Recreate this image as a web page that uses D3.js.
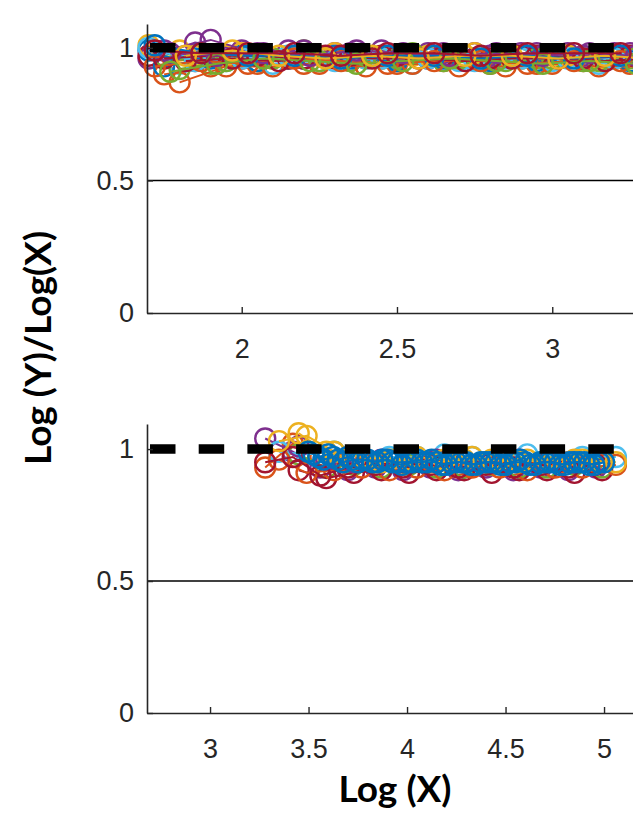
<!DOCTYPE html>
<html><head><meta charset="utf-8">
<script src="https://cdn.jsdelivr.net/npm/d3@7"></script>
<style>
body { margin: 0; background: #fff; }
svg { display: block; }
</style></head><body>
<svg id="chart" width="633" height="814"></svg>
<script>
// MATLAB default colour order
const palette = ['#0072BD', '#D95319', '#EDB120', '#7E2F8E', '#77AC30', '#4DBEEE', '#A2142F'];

/* top panel: Log(X) positions */
const topXa = [1.70, 1.85, 2.00, 2.15, 2.30, 2.45, 2.60, 2.75, 2.90, 3.05, 3.20];
const topXb = [1.75, 1.90, 2.05, 2.20, 2.35, 2.50, 2.65, 2.80, 2.95, 3.10, 3.25];
const topXc = [1.80, 1.95, 2.10, 2.25, 2.40, 2.55, 2.70, 2.85, 3.00, 3.15, 3.30];
const topXd = [1.72, 1.87, 2.02, 2.17, 2.32, 2.47, 2.62, 2.77, 2.92, 3.07, 3.22];
const topXe = [1.77, 1.92, 2.07, 2.22, 2.37, 2.52, 2.67, 2.82, 2.97, 3.12, 3.27];
const topXf = [1.82, 1.97, 2.12, 2.27, 2.42, 2.57, 2.72, 2.87, 3.02, 3.17, 3.32];

/* top panel: Log(Y)/Log(X) */
const top1 = [0.99, 0.96, 0.97, 0.96, 0.97, 0.96, 0.97, 0.96, 0.96, 0.97, 0.96];
const top2 = [0.90, 0.93, 0.94, 0.94, 0.95, 0.94, 0.95, 0.94, 0.94, 0.95, 0.94];
const top3 = [0.99, 0.97, 0.96, 0.97, 0.96, 0.97, 0.96, 0.97, 0.97, 0.96, 0.97];
const top4 = [0.96, 1.02, 0.99, 0.99, 0.98, 0.99, 0.98, 0.98, 0.98, 0.98, 0.98];
const top5 = [0.97, 0.94, 0.95, 0.99, 0.95, 0.96, 0.95, 0.94, 0.96, 0.95, 0.96];
const top6 = [0.94, 0.95, 0.94, 0.95, 0.96, 0.94, 0.95, 0.96, 0.95, 0.94, 0.95];
const top7 = [0.97, 0.95, 0.96, 0.96, 0.96, 0.97, 0.96, 0.96, 0.97, 0.97, 0.97];
const top8 = [0.93, 0.96, 0.95, 0.96, 0.96, 0.95, 0.96, 0.95, 0.95, 0.96, 0.95];
const top9 = [0.87, 0.93, 0.93, 0.94, 0.93, 0.94, 0.93, 0.93, 0.94, 0.93, 0.93];
const top10 = [1.01, 0.97, 0.98, 0.97, 0.98, 0.96, 0.97, 0.98, 0.96, 0.97, 0.96];
const top11 = [0.99, 1.03, 0.98, 0.99, 0.98, 0.97, 0.98, 0.97, 0.98, 0.97, 0.98];
const top12 = [0.92, 0.95, 0.96, 0.95, 0.97, 0.98, 0.96, 0.95, 0.96, 0.95, 0.95];
const top13 = [1.00, 0.95, 0.96, 0.97, 0.95, 0.96, 0.96, 0.95, 0.96, 0.96, 0.96];
const top14 = [0.96, 0.97, 0.97, 0.96, 0.97, 0.97, 0.97, 0.96, 0.97, 0.96, 0.97];
const top15 = [0.93, 0.95, 0.94, 0.96, 0.95, 0.94, 0.95, 0.95, 0.94, 0.95, 0.95];
const top16 = [0.98, 0.97, 0.98, 0.97, 0.99, 0.98, 0.97, 0.98, 0.97, 0.98, 0.97];
const top17 = [0.95, 0.96, 0.95, 0.97, 0.96, 0.96, 0.95, 0.96, 0.96, 0.95, 0.96];
const top18 = [1.01, 0.98, 0.97, 0.97, 0.96, 0.97, 0.97, 0.96, 0.97, 0.96, 0.97];
const top19 = [0.91, 0.94, 0.96, 0.95, 0.94, 0.95, 0.96, 0.95, 0.94, 0.95, 0.94];
const top20 = [0.97, 0.99, 0.97, 0.96, 0.97, 0.96, 0.97, 0.97, 0.96, 0.97, 0.96];
const top21 = [0.99, 0.98, 0.98, 0.98, 0.97, 0.98, 0.98, 0.97, 0.98, 0.98, 0.98];

/* bottom panel: Log(X) positions */
const botXa = [3.28, 3.42, 3.56, 3.70, 3.84, 3.98, 4.12, 4.26, 4.40, 4.54, 4.68, 4.82, 4.96];
const botXb = [3.35, 3.49, 3.63, 3.77, 3.91, 4.05, 4.19, 4.33, 4.47, 4.61, 4.75, 4.89, 5.06];
const botXc = [3.45, 3.59, 3.73, 3.87, 4.01, 4.15, 4.29, 4.43, 4.57, 4.71, 4.85, 4.99];
const botXdense = [3.50, 3.55, 3.60, 3.65, 3.70, 3.75, 3.80, 3.85, 3.90, 3.95, 4.00, 4.05, 4.10, 4.15, 4.20, 4.25,
  4.30, 4.35, 4.40, 4.45, 4.50, 4.55, 4.60, 4.65, 4.70, 4.75, 4.80, 4.85, 4.90, 4.95, 5.00];
const botXdense2 = [3.525, 3.575, 3.625, 3.675, 3.725, 3.775, 3.825, 3.875, 3.925, 3.975, 4.025, 4.075, 4.125, 4.175, 4.225,
  4.275, 4.325, 4.375, 4.425, 4.475, 4.525, 4.575, 4.625, 4.675, 4.725, 4.775, 4.825, 4.875, 4.925, 4.975];

/* bottom panel: Log(Y)/Log(X) */
const bot1 = [0.93, 1.02, 0.97, 0.95, 0.95, 0.94, 0.95, 0.94, 0.95, 0.94, 0.94, 0.95, 0.95];
const bot2 = [1.03, 1.05, 0.99, 0.97, 0.96, 0.97, 0.96, 0.97, 0.96, 0.96, 0.97, 0.96, 0.95];
const bot3 = [1.04, 0.99, 0.93, 0.92, 0.93, 0.92, 0.93, 0.92, 0.93, 0.92, 0.93, 0.92, 0.93];
const bot4 = [0.98, 0.93, 0.94, 0.93, 0.94, 0.93, 0.93, 0.94, 0.93, 0.93, 0.94, 0.93];
const bot5 = [0.99, 0.98, 0.99, 0.97, 0.97, 0.97, 0.98, 0.97, 0.97, 0.98, 0.97, 0.97, 0.97];
const bot6 = [0.92, 0.89, 0.91, 0.92, 0.91, 0.92, 0.92, 0.91, 0.92, 0.92, 0.91, 0.92];
const bot7 = [0.96, 0.91, 0.92, 0.93, 0.92, 0.93, 0.92, 0.93, 0.93, 0.92, 0.93, 0.93, 0.94];
const bot8 = [1.01, 0.96, 0.95, 0.96, 0.95, 0.96, 0.95, 0.95, 0.96, 0.95, 0.95, 0.96];
const bot9 = [0.95, 0.97, 0.90, 0.93, 0.94, 0.93, 0.94, 0.93, 0.94, 0.93, 0.94, 0.93, 0.94];
const bot10 = [1.06, 0.99, 0.96, 0.95, 0.96, 0.95, 0.96, 0.96, 0.95, 0.96, 0.96, 0.95];
const botDense = [0.99, 0.97, 0.98, 0.96, 0.97, 0.95, 0.96, 0.95, 0.96, 0.95, 0.95, 0.96, 0.95, 0.95, 0.94, 0.95,
  0.95, 0.94, 0.95, 0.95, 0.94, 0.95, 0.95, 0.94, 0.95, 0.95, 0.94, 0.95, 0.95, 0.94, 0.95];
const botDense2 = [0.98, 0.96, 0.97, 0.95, 0.96, 0.96, 0.95, 0.96, 0.95, 0.94, 0.95, 0.95, 0.96, 0.94, 0.95,
  0.95, 0.94, 0.95, 0.95, 0.94, 0.95, 0.96, 0.94, 0.95, 0.95, 0.94, 0.95, 0.95, 0.94, 0.95];

const topTicksX = [2, 2.5, 3];
const botTicksX = [3, 3.5, 4, 4.5, 5];
const ticksY = [0, 0.5, 1];

// [x, y, colour index]
const topSeries = [
  [topXa, top1, 0], [topXb, top2, 1], [topXc, top3, 2], [topXa, top4, 3], [topXb, top5, 4],
  [topXc, top6, 5], [topXa, top7, 6], [topXb, top8, 0], [topXc, top9, 1], [topXa, top10, 2],
  [topXb, top11, 3], [topXc, top12, 4], [topXa, top13, 5], [topXb, top14, 6], [topXd, top15, 1],
  [topXe, top16, 3], [topXf, top17, 6], [topXd, top18, 0], [topXe, top19, 4], [topXf, top20, 2],
  [topXd, top21, 6]
];
const botSeries = [
  [botXa, bot1, 1], [botXa, bot3, 3], [botXc, bot4, 4], [botXb, bot5, 5], [botXc, bot6, 6],
  [botXb, bot7, 1], [botXc, bot8, 3], [botXa, bot9, 6], [botXc, bot10, 2], [botXb, bot2, 2],
  [botXdense, botDense, 0], [botXdense2, botDense2, 0]
];

const svg = d3.select('#chart');
svg.append('rect').attr('width', 633).attr('height', 814).attr('fill', '#fff');

function panel(series, xDomain, yMax, top, bottom, xTicks) {
  const x = d3.scaleLinear().domain(xDomain).range([147, 633]);
  const y = d3.scaleLinear().domain([0, yMax]).range([bottom, top]);
  const g = svg.append('g');

  const line = d3.line().x(d => x(d[0])).y(d => y(d[1]));
  series.forEach(([xs, ys, c]) => {
    const pts = xs.map((v, i) => [v, ys[i]]);
    g.append('path').datum(pts)
      .attr('d', line).attr('fill', 'none')
      .attr('stroke', palette[c]).attr('stroke-width', 2);
    g.append('g').selectAll('circle').data(pts).enter().append('circle')
      .attr('cx', d => x(d[0])).attr('cy', d => y(d[1])).attr('r', 10)
      .attr('fill', 'none').attr('stroke', palette[c]).attr('stroke-width', 2.4);
  });

  // reference lines
  g.append('line').attr('x1', x.range()[0]).attr('x2', 633)
    .attr('y1', y(0.5)).attr('y2', y(0.5)).attr('stroke', '#000').attr('stroke-width', 1.6);
  g.append('line').attr('x1', x.range()[0] + 3).attr('x2', 633)
    .attr('y1', y(1)).attr('y2', y(1)).attr('stroke', '#000').attr('stroke-width', 9.5)
    .attr('stroke-dasharray', '25.5,23.2');

  const ax = g.append('g').attr('transform', `translate(0,${bottom})`)
    .call(d3.axisBottom(x).tickValues(xTicks).tickFormat(d3.format('')).tickSizeInner(-6).tickSizeOuter(0).tickPadding(26));
  const ay = g.append('g').attr('transform', 'translate(147,0)')
    .call(d3.axisLeft(y).tickValues(ticksY).tickFormat(d3.format('')).tickSizeInner(-6).tickSizeOuter(0).tickPadding(13));
  [ax, ay].forEach(a => {
    a.select('.domain').attr('stroke', '#262626').attr('stroke-width', 1.6);
    a.selectAll('.tick line').attr('stroke', '#262626').attr('stroke-width', 1.4);
    a.selectAll('.tick text').attr('fill', '#262626')
      .style('font-family', '"Liberation Sans", Arial, sans-serif').style('font-size', '27px');
  });
}

panel(topSeries, [1.695, 3.26], 1.09, 24, 313, topTicksX);
panel(botSeries, [2.68, 5.147], 1.095, 424, 713, botTicksX);

svg.append('text').attr('x', 395).attr('y', 802).attr('text-anchor', 'middle')
  .style('font-family', 'Lato, "Open Sans", sans-serif').style('font-weight', 'bold').style('font-size', '37px')
  .text('Log (X)');
svg.append('text').attr('transform', 'translate(51,348) rotate(-90)').attr('text-anchor', 'middle')
  .style('font-family', 'Lato, "Open Sans", sans-serif').style('font-weight', 'bold').style('font-size', '37px')
  .text('Log (Y)/Log(X)');
</script>
</body></html>
